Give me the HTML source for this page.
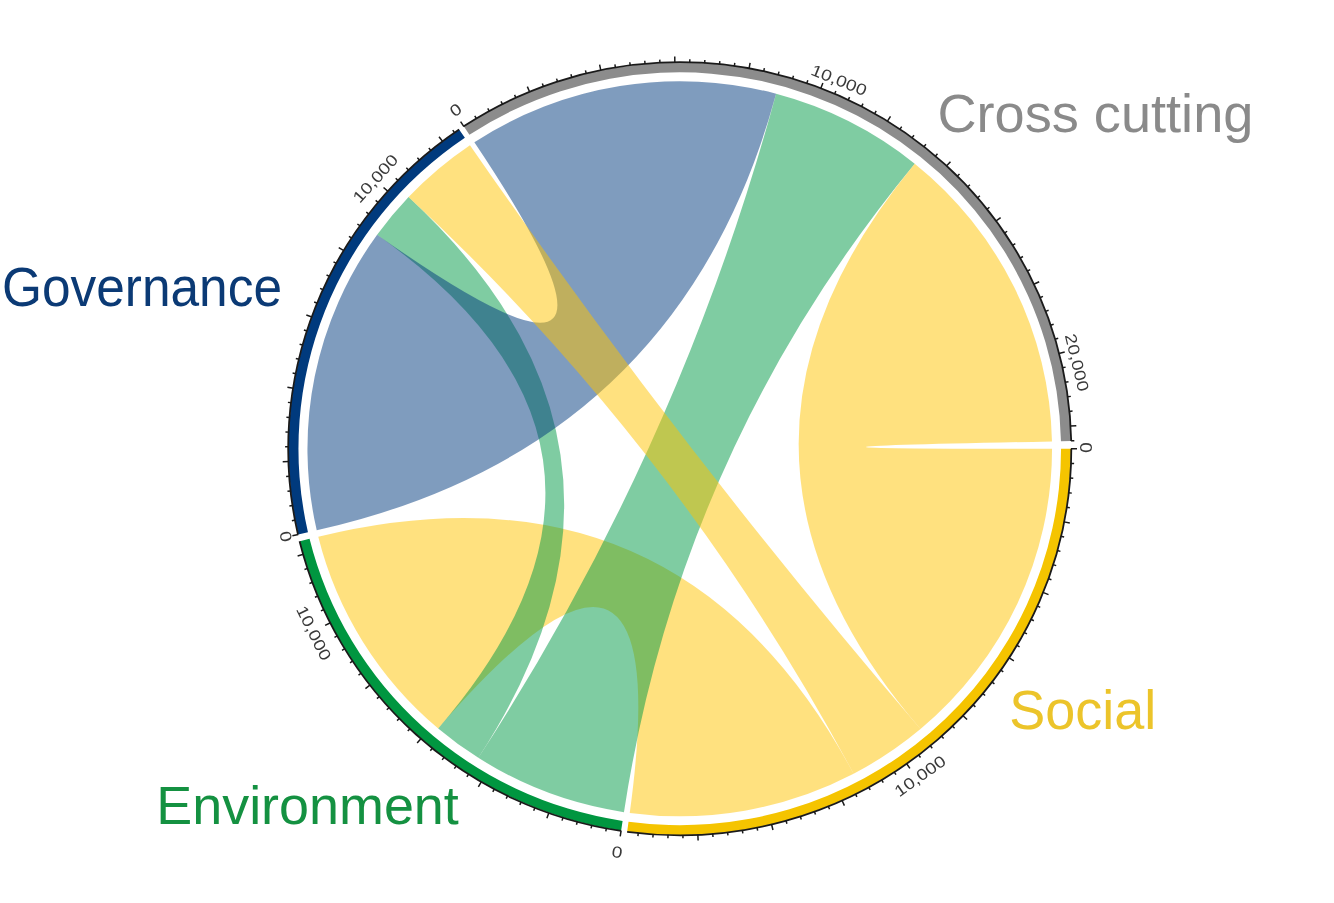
<!DOCTYPE html><html><head><meta charset="utf-8"><style>html,body{margin:0;padding:0;background:#fff;}svg{display:block;filter:blur(0.45px)}text{font-family:"Liberation Sans",sans-serif}</style></head><body>
<svg width="1334" height="903" viewBox="0 0 1334 903">
<g transform="translate(679.75,448.75) scale(1,0.9872)">
<path d="M-241.54,283.31A372.3,372.3 0 0 1 -361.48,89.12Q0,0 173.87,329.21A372.3,372.3 0 0 1 -50.01,368.93Q0,0 -241.54,283.31Z" fill="#ffc300" fill-opacity="0.5"/>
<path d="M-302.64,-216.83A372.3,372.3 0 0 1 -271.17,-255.09Q0,0 -201.40,313.12A372.3,372.3 0 0 1 -241.54,283.31Q0,0 -302.64,-216.83Z" fill="#009a45" fill-opacity="0.5"/>
<path d="M-205.38,-310.53A372.3,372.3 0 0 1 96.36,-359.61Q0,0 -363.02,82.61A372.3,372.3 0 0 1 -302.64,-216.83Q0,0 -205.38,-310.53Z" fill="#003a7d" fill-opacity="0.5"/>
<path d="M96.36,-359.61A372.3,372.3 0 0 1 234.95,-288.80Q0,0 -55.80,368.09A372.3,372.3 0 0 1 -201.40,313.12Q0,0 96.36,-359.61Z" fill="#009a45" fill-opacity="0.5"/>
<path d="M-271.17,-255.09A372.3,372.3 0 0 1 -209.80,-307.56Q0,0 240.75,283.98A372.3,372.3 0 0 1 173.87,329.21Q0,0 -271.17,-255.09Z" fill="#ffc300" fill-opacity="0.5"/>
<path d="M234.95,-288.80A372.3,372.3 0 0 1 372.23,-7.47Q0,0 372.30,-0.06A372.3,372.3 0 0 1 240.75,283.98Q0,0 234.95,-288.80Z" fill="#ffc300" fill-opacity="0.5"/>
<path d="M-215.83,-326.33A391.25,391.25 0 0 1 391.17,-7.85L381.22,-7.65A381.3,381.3 0 0 0 -210.34,-318.03Z" fill="#8c8c8c"/>
<path d="M391.25,-0.07A391.25,391.25 0 0 1 -52.56,387.70L-51.22,377.84A381.3,381.3 0 0 0 381.30,-0.07Z" fill="#f5c400"/>
<path d="M-58.64,386.83A391.25,391.25 0 0 1 -379.87,93.66L-370.21,91.28A381.3,381.3 0 0 0 -57.15,376.99Z" fill="#009640"/>
<path d="M-381.50,86.81A391.25,391.25 0 0 1 -220.48,-323.21L-214.87,-314.99A381.3,381.3 0 0 0 -371.79,84.61Z" fill="#003a7d"/>
<path d="M-216.00,-326.58A391.55,391.55 0 0 1 391.47,-7.86" fill="none" stroke="#1a1a1a" stroke-width="1.8"/>
<path d="M-215.83,-326.33L-219.14,-331.34M-203.24,-334.32L-205.00,-337.23M-190.35,-341.82L-192.00,-344.79M-177.19,-348.83L-178.73,-351.86M-163.76,-355.33L-165.19,-358.42M-150.10,-361.31L-152.41,-366.85M-136.23,-366.77L-137.41,-369.96M-122.15,-371.69L-123.21,-374.92M-107.90,-376.08L-108.83,-379.35M-93.49,-379.92L-94.30,-383.22M-78.94,-383.20L-80.15,-389.08M-64.28,-385.93L-64.84,-389.29M-49.52,-388.10L-49.95,-391.48M-34.70,-389.71L-35.00,-393.09M-19.82,-390.75L-19.99,-394.14M-4.92,-391.22L-4.99,-397.22M10.00,-391.12L10.08,-394.52M24.89,-390.46L25.11,-393.85M39.76,-389.22L40.10,-392.61M54.56,-387.43L55.03,-390.79M69.28,-385.07L70.35,-390.97M83.91,-382.15L84.64,-385.47M98.41,-378.67L99.27,-381.96M112.77,-374.65L113.75,-377.90M126.97,-370.08L128.07,-373.29M140.98,-364.97L143.14,-370.57M154.78,-359.33L156.13,-362.45M168.36,-353.17L169.83,-356.24M181.70,-346.50L183.28,-349.51M194.77,-339.32L196.47,-342.27M207.56,-331.65L210.75,-336.74M220.05,-323.50L221.96,-326.31M232.22,-314.88L234.24,-317.62M244.05,-305.80L246.17,-308.46M255.53,-296.28L257.75,-298.86M266.63,-286.33L270.72,-290.72M277.35,-275.96L279.76,-278.36M287.66,-265.19L290.16,-267.49M297.56,-254.03L300.15,-256.24M307.03,-242.51L309.69,-244.62M316.05,-230.63L320.89,-234.17M324.61,-218.42L327.43,-220.32M332.69,-205.89L335.58,-207.68M340.30,-193.06L343.25,-194.74M347.41,-179.96L350.43,-181.52M354.01,-166.59L359.44,-169.14M360.10,-152.97L363.23,-154.30M365.67,-139.14L368.85,-140.35M370.71,-125.10L373.93,-126.19M375.21,-110.89L378.47,-111.85M379.16,-96.51L384.98,-97.99M382.56,-81.99L385.89,-82.70M385.41,-67.35L388.76,-67.93M387.70,-52.61L391.07,-53.07M389.42,-37.80L392.80,-38.13M390.58,-22.93L396.57,-23.28M391.17,-8.03L394.57,-8.10" stroke="#1a1a1a" stroke-width="1.5"/>
<path d="M391.55,-0.07A391.55,391.55 0 0 1 -52.60,388.00" fill="none" stroke="#1a1a1a" stroke-width="1.8"/>
<path d="M391.25,-0.07L397.25,-0.07M390.97,14.84L394.37,14.97M390.12,29.73L393.51,29.99M388.70,44.58L392.08,44.96M386.72,59.36L390.08,59.87M384.18,74.05L390.07,75.19M381.08,88.64L384.39,89.41M377.42,103.10L380.70,103.99M373.22,117.40L376.46,118.42M368.47,131.54L371.68,132.68M363.19,145.49L368.76,147.72M357.39,159.22L360.49,160.61M351.06,172.73L354.11,174.23M344.22,185.98L347.21,187.60M336.88,198.96L339.81,200.69M329.06,211.66L334.10,214.90M320.75,224.04L323.54,225.99M311.98,236.10L314.69,238.15M302.76,247.82L305.39,249.97M293.09,259.18L295.64,261.43M283.00,270.16L287.34,274.30M272.50,280.75L274.87,283.19M261.60,290.93L263.88,293.46M250.33,300.69L252.50,303.30M238.69,310.01L240.76,312.70M226.70,318.88L230.18,323.77M214.38,327.29L216.25,330.13M201.75,335.22L203.51,338.13M188.83,342.66L190.47,345.64M175.64,349.61L177.16,352.65M162.19,356.05L164.67,361.51M148.50,361.97L149.79,365.12M134.60,367.37L135.77,370.56M120.50,372.23L121.55,375.47M106.23,376.55L107.15,379.83M91.80,380.33L93.21,386.16M77.24,383.55L77.91,386.88M62.57,386.21L63.11,389.57M47.80,388.32L48.22,391.69M32.97,389.86L33.26,393.25M18.09,390.83L18.37,396.83M3.18,391.24L3.21,394.64M-11.73,391.07L-11.83,394.47M-26.62,390.34L-26.86,393.74M-41.48,389.04L-41.84,392.43" stroke="#1a1a1a" stroke-width="1.5"/>
<path d="M-58.69,387.13A391.55,391.55 0 0 1 -380.17,93.73" fill="none" stroke="#1a1a1a" stroke-width="1.8"/>
<path d="M-58.64,386.83L-59.54,392.76M-73.34,384.31L-73.98,387.65M-87.93,381.24L-88.70,384.55M-102.40,377.61L-103.29,380.89M-116.71,373.44L-117.73,376.68M-130.86,368.72L-132.87,374.37M-144.82,363.46L-146.07,366.62M-158.56,357.68L-159.94,360.79M-172.08,351.38L-173.57,354.43M-185.34,344.56L-186.95,347.56M-198.34,337.25L-201.38,342.42M-211.05,329.45L-212.88,332.31M-223.45,321.17L-225.39,323.96M-235.53,312.42L-237.57,315.13M-247.26,303.21L-249.41,305.85M-258.64,293.57L-262.60,298.07M-269.64,283.50L-271.98,285.97M-280.24,273.02L-282.68,275.39M-290.44,262.14L-292.97,264.42M-300.22,250.88L-302.83,253.06M-309.57,239.26L-314.31,242.93M-318.46,227.29L-321.23,229.26M-326.89,214.99L-329.73,216.86M-334.85,202.37L-337.75,204.13M-342.31,189.47L-345.29,191.11M-349.29,176.28L-354.64,178.99M-355.75,162.85L-358.84,164.26M-361.70,149.17L-364.84,150.47M-367.12,135.28L-370.31,136.45M-372.01,121.19L-375.24,122.24M-376.36,106.92L-382.13,108.56" stroke="#1a1a1a" stroke-width="1.5"/>
<path d="M-381.79,86.88A391.55,391.55 0 0 1 -220.65,-323.46" fill="none" stroke="#1a1a1a" stroke-width="1.8"/>
<path d="M-381.50,86.81L-387.35,88.15M-384.53,72.21L-387.87,72.84M-387.00,57.51L-390.36,58.01M-388.91,42.72L-392.29,43.09M-390.26,27.86L-393.65,28.11M-391.03,12.97L-397.03,13.17M-391.25,-1.94L-394.65,-1.96M-390.89,-16.85L-394.28,-16.99M-389.96,-31.73L-393.35,-32.01M-388.47,-46.57L-391.84,-46.97M-386.41,-61.34L-392.34,-62.28M-383.79,-76.02L-387.13,-76.68M-380.62,-90.59L-383.93,-91.38M-376.89,-105.03L-380.16,-105.94M-372.61,-119.32L-375.85,-120.35M-367.79,-133.43L-373.43,-135.48M-362.44,-147.35L-365.59,-148.63M-356.56,-161.05L-359.66,-162.45M-350.17,-174.53L-353.21,-176.04M-343.26,-187.74L-346.25,-189.38M-335.86,-200.69L-341.01,-203.77M-327.97,-213.34L-330.82,-215.20M-319.60,-225.69L-322.38,-227.65M-310.76,-237.70L-313.47,-239.77M-301.48,-249.37L-304.10,-251.54M-291.76,-260.68L-296.23,-264.68M-281.61,-271.61L-284.06,-273.97M-271.06,-282.14L-273.41,-284.59M-260.11,-292.27L-262.37,-294.81M-248.78,-301.97L-250.94,-304.59M-237.09,-311.23L-240.73,-316.00M-225.06,-320.04L-227.02,-322.82" stroke="#1a1a1a" stroke-width="1.5"/>
</g>
<text transform="translate(455.7,110) rotate(-33.5) scale(1.2,1)" x="0" y="5.6" font-size="16" fill="#3a3a3a" text-anchor="middle">0</text>
<text transform="translate(839,80) rotate(22) scale(1.2,1)" x="0" y="5.6" font-size="16" fill="#3a3a3a" text-anchor="middle">10,000</text>
<text transform="translate(1077,362.5) rotate(76.5) scale(1.2,1)" x="0" y="5.6" font-size="16" fill="#3a3a3a" text-anchor="middle">20,000</text>
<text transform="translate(1085.2,447.6) rotate(90) scale(1.2,1)" x="0" y="5.6" font-size="16" fill="#3a3a3a" text-anchor="middle">0</text>
<text transform="translate(920,776) rotate(-35.3) scale(1.2,1)" x="0" y="5.6" font-size="16" fill="#3a3a3a" text-anchor="middle">10,000</text>
<text transform="translate(617,852) rotate(8.6) scale(1.2,1)" x="0" y="5.6" font-size="16" fill="#3a3a3a" text-anchor="middle">0</text>
<text transform="translate(313.8,633) rotate(63.4) scale(1.2,1)" x="0" y="5.6" font-size="16" fill="#3a3a3a" text-anchor="middle">10,000</text>
<text transform="translate(286,536.4) rotate(77.2) scale(1.2,1)" x="0" y="5.6" font-size="16" fill="#3a3a3a" text-anchor="middle">0</text>
<text transform="translate(375.3,178.4) rotate(-48) scale(1.2,1)" x="0" y="5.6" font-size="16" fill="#3a3a3a" text-anchor="middle">10,000</text>
<text x="937.40" y="131.50" font-size="54.00" fill="#8a8a8a" textLength="316.00" lengthAdjust="spacingAndGlyphs">Cross cutting</text>
<text x="2.00" y="305.50" font-size="55.00" fill="#0b3a75" textLength="280.00" lengthAdjust="spacingAndGlyphs">Governance</text>
<text x="156.30" y="824.00" font-size="54.00" fill="#149141" textLength="302.50" lengthAdjust="spacingAndGlyphs">Environment</text>
<text x="1009.20" y="729.00" font-size="55.00" fill="#ecc42a" textLength="147.00" lengthAdjust="spacingAndGlyphs">Social</text>
</svg></body></html>
